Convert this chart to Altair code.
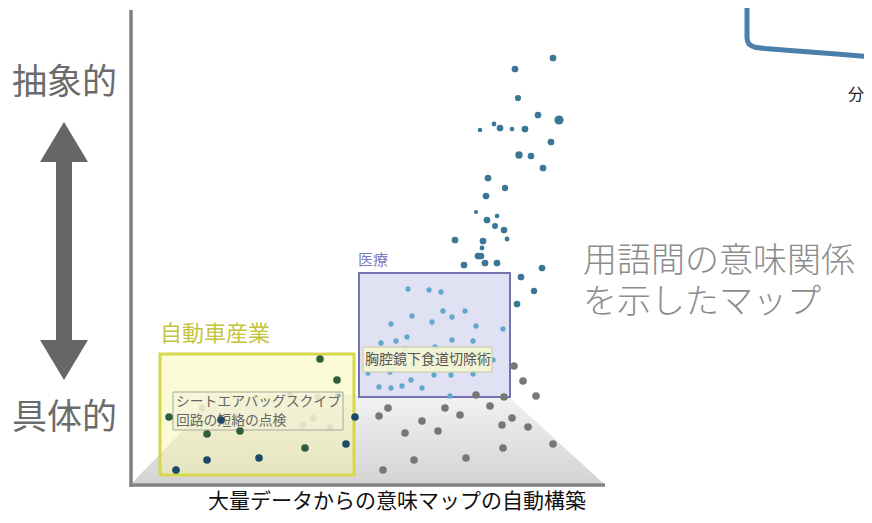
import altair as alt
import pandas as pd

FONT = "Noto Sans CJK JP"

# ---- data (illustration coordinates, y grows downward) ----
upper_x = [553, 515, 518, 538, 559, 480, 494, 500, 512, 525, 551, 519, 531, 543, 488, 505, 486, 476, 497, 487, 495, 504, 455, 483, 507, 482, 478, 481, 464, 485, 497, 542, 521, 534, 517]
upper_y = [58, 69, 98, 115, 120, 130, 124, 128, 129, 129, 142, 155, 156, 168, 178, 188, 196, 212, 216, 220, 226, 230, 240, 241, 239, 248, 256, 256, 265, 263, 263, 268, 277, 291, 304]
upper_s = [45, 45, 38, 45, 85, 20, 24, 45, 22, 45, 45, 55, 45, 45, 45, 40, 45, 18, 22, 45, 36, 45, 45, 45, 24, 24, 45, 45, 45, 45, 45, 45, 45, 40, 45]

med_x = [408, 429, 441, 412, 443, 452, 465, 391, 432, 476, 503, 381, 396, 407, 452, 473, 405, 435, 478, 493, 368, 390, 434, 451, 473, 379, 391, 402, 411, 422, 450]
med_y = [289, 290, 292, 316, 311, 317, 311, 324, 322, 326, 329, 343, 341, 337, 340, 341, 349, 347, 354, 360, 373, 372, 375, 375, 374, 387, 388, 386, 380, 388, 396]

gray_x = [514, 523, 536, 504, 476, 490, 388, 379, 445, 460, 422, 502, 512, 528, 405, 438, 553, 503, 466, 414, 383]
gray_y = [366, 381, 396, 397, 395, 406, 408, 416, 408, 415, 421, 425, 418, 427, 433, 431, 444, 448, 458, 460, 470]

car_x = [320, 337, 169, 221, 207, 240, 355, 305, 346, 207, 259, 176]
car_y = [359, 380, 417, 420, 434, 431, 417, 448, 444, 460, 458, 470]
car_k = ["g", "g", "g", "n", "g", "g", "n", "g", "n", "n", "n", "n"]

faint_x = [202, 290, 318, 338, 313, 303, 330]
faint_y = [408, 395, 397, 395, 418, 425, 427]

# shapes
floor_x = [132, 217, 507, 603]
floor_y = [483, 395, 395, 483]
arrow_head_y = [142, 360]
arrow_head_dir = ["up", "down"]
curve_x = [747, 747, 747.5, 749, 752, 756, 765, 790, 830, 875]
curve_y = [-5, 38, 41, 44, 46, 47.5, 48.5, 50.5, 53.5, 57]

X = alt.X("x:Q", scale=alt.Scale(domain=[8, 864], zero=False, nice=False), axis=None)
Y = alt.Y("y:Q", scale=alt.Scale(domain=[515, 8], zero=False, nice=False), axis=None)


def df(**cols):
    return pd.DataFrame(cols)


floor = alt.Chart(df(x=floor_x, y=floor_y, y2=[483] * 4)).mark_area(
    color=alt.Gradient(gradient="linear", x1=0, x2=0, y1=0, y2=1,
                       stops=[alt.GradientStop(color="#f2f2f2", offset=0),
                              alt.GradientStop(color="#d4d4d4", offset=1)])
).encode(x=X, y=Y, y2="y2:Q")

car_box = alt.Chart(df(x=[160], x2=[354], y=[354], y2=[475])).mark_rect(
    fill="#f7f7a6", fillOpacity=0.45, stroke="#d6d84a", strokeWidth=3
).encode(x=X, x2="x2:Q", y=Y, y2="y2:Q")

faint = alt.Chart(df(x=faint_x, y=faint_y)).mark_circle(size=45, color="#cfcfb8", opacity=1).encode(x=X, y=Y)

car_label_box = alt.Chart(df(x=[173], x2=[343], y=[392], y2=[430])).mark_rect(
    fill="#f3f3d8", fillOpacity=0.55, stroke="#a8a8a0", strokeWidth=1
).encode(x=X, x2="x2:Q", y=Y, y2="y2:Q")

car_label = alt.Chart(df(x=[176], y=[402], t=["シートエアバッグスクイブ\n回路の短絡の点検"])).mark_text(
    font=FONT, fontSize=13.8, align="left", baseline="middle", color="#666666",
    lineBreak="\n", lineHeight=19
).encode(x=X, y=Y, text="t:N")

car_pts = alt.Chart(df(x=car_x, y=car_y, k=car_k)).mark_circle(size=58, opacity=1).encode(
    x=X, y=Y,
    color=alt.Color("k:N", scale=alt.Scale(domain=["g", "n"], range=["#2f5d3e", "#1c4766"]), legend=None)
)

med_box = alt.Chart(df(x=[359], x2=[510], y=[273], y2=[397])).mark_rect(
    fill="#d9d9f1", fillOpacity=0.8, stroke="#7373b3", strokeWidth=2
).encode(x=X, x2="x2:Q", y=Y, y2="y2:Q")

med_pts = alt.Chart(df(x=med_x, y=med_y)).mark_circle(size=28, color="#62a8cc", opacity=1).encode(x=X, y=Y)

gray_pts = alt.Chart(df(x=gray_x, y=gray_y)).mark_circle(size=58, color="#777777", opacity=1).encode(x=X, y=Y)

upper_pts = alt.Chart(df(x=upper_x, y=upper_y, s=upper_s)).mark_circle(color="#3a7795", opacity=1).encode(
    x=X, y=Y, size=alt.Size("s:Q", scale=None, legend=None)
)

med_label_box = alt.Chart(df(x=[363], x2=[492], y=[347], y2=[372])).mark_rect(
    fill="#f5f5d2", fillOpacity=0.9, stroke="#c9c9a6", strokeWidth=1
).encode(x=X, x2="x2:Q", y=Y, y2="y2:Q")

med_label = alt.Chart(df(x=[365], y=[360], t=["胸腔鏡下食道切除術"])).mark_text(
    font=FONT, fontSize=14, align="left", baseline="middle", color="#555555"
).encode(x=X, y=Y, text="t:N")

axes = alt.Chart(df(x=[131, 131], x2=[131, 605], y=[10, 485], y2=[487, 485])).mark_rule(
    color="#808080", strokeWidth=3.5
).encode(x=X, x2="x2:Q", y=Y, y2="y2:Q")

arrow_shaft = alt.Chart(df(x=[64], y=[158], y2=[344])).mark_rule(
    color="#666666", strokeWidth=16
).encode(x=X, y=Y, y2="y2:Q")

arrow_heads = alt.Chart(df(x=[64, 64], y=arrow_head_y, d=arrow_head_dir)).mark_point(
    filled=True, opacity=1, size=2304, strokeWidth=0
).encode(
    x=X, y=Y,
    shape=alt.Shape("d:N", scale=alt.Scale(domain=["up", "down"],
                                            range=["M0,-0.83L1,0.83L-1,0.83Z", "M0,0.83L1,-0.83L-1,-0.83Z"]),
                    legend=None),
    color=alt.value("#666666")
)

curve = alt.Chart(df(x=curve_x, y=curve_y, i=list(range(len(curve_x))))).mark_line(
    color="#4a7eab", strokeWidth=5, clip=True
).encode(x=X, y=Y, order="i:Q")

big_text = alt.Chart(df(x=[12, 12], y=[83, 418], t=["抽象的", "具体的"])).mark_text(
    font=FONT, fontSize=35, align="left", baseline="middle", color="#6b6b6b"
).encode(x=X, y=Y, text="t:N")

right_text = alt.Chart(df(x=[583], y=[262], t=["用語間の意味関係\nを示したマップ"])).mark_text(
    font=FONT, fontSize=34, align="left", baseline="middle", color="#8c8c8c", fontWeight=300,
    lineBreak="\n", lineHeight=41
).encode(x=X, y=Y, text="t:N")

car_title = alt.Chart(df(x=[160], y=[334], t=["自動車産業"])).mark_text(
    font=FONT, fontSize=22, align="left", baseline="middle", color="#c3c43c"
).encode(x=X, y=Y, text="t:N")

med_title = alt.Chart(df(x=[358], y=[260], t=["医療"])).mark_text(
    font=FONT, fontSize=15, align="left", baseline="middle", color="#7b7bc0"
).encode(x=X, y=Y, text="t:N")

bottom_title = alt.Chart(df(x=[397], y=[502], t=["大量データからの意味マップの自動構築"])).mark_text(
    font=FONT, fontSize=21, align="center", baseline="middle", color="#111111"
).encode(x=X, y=Y, text="t:N")

corner_text = alt.Chart(df(x=[848], y=[95], t=["分"])).mark_text(
    font=FONT, fontSize=16, align="left", baseline="middle", color="#222222"
).encode(x=X, y=Y, text="t:N")

chart = alt.layer(
    floor, car_box, faint, car_label_box, car_label, car_pts,
    med_box, med_pts, gray_pts, upper_pts, med_label_box, med_label,
    axes, arrow_shaft, arrow_heads, curve, big_text, right_text, car_title, med_title,
    bottom_title, corner_text
).properties(
    width=856, height=507, autosize=alt.AutoSizeParams(type="none"), padding=0
).configure_view(stroke=None)

chart.save("out.html", embed_options={"renderer": "svg", "actions": False})
